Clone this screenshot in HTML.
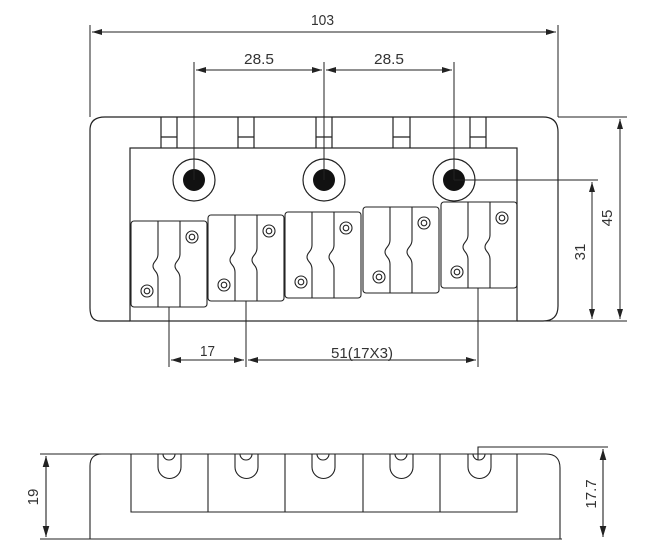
<!DOCTYPE html>
<html><head><style>body{margin:0;background:#fff}svg{display:block}text{font-family:"Liberation Sans",sans-serif;font-size:15px;fill:#333}</style></head><body>
<svg width="650" height="560" viewBox="0 0 650 560" xmlns="http://www.w3.org/2000/svg">
<defs><marker id="a" viewBox="0 0 10 6" refX="10" refY="3" markerWidth="10" markerHeight="6" orient="auto-start-reverse"><path d="M0,0 L10,3 L0,6z" fill="#222"/></marker></defs>
<g fill="none" stroke="#222" stroke-width="1.2">
<path d="M130,321 H100 Q90,321 90,308 V130 Q90,117 105,117 H543 Q558,117 558,132 V306 Q558,321 543,321 H517"/>
<rect x="130" y="148" width="387" height="173"/>
<path d="M161,117V148M177,117V148M161,137H177"/>
<path d="M238,117V148M254,117V148M238,137H254"/>
<path d="M316,117V148M332,117V148M316,137H332"/>
<path d="M393,117V148M410,117V148M393,137H410"/>
<path d="M470,117V148M486,117V148M470,137H486"/>
<circle cx="194" cy="180" r="21"/><circle cx="324" cy="180" r="21"/><circle cx="454" cy="180" r="21"/>
</g>
<g fill="#111"><circle cx="194" cy="180" r="11"/><circle cx="324" cy="180" r="11"/><circle cx="454" cy="180" r="11"/></g>
<g fill="none" stroke="#222" stroke-width="1.1">
<g id="s1" transform="translate(131,221)">
<rect x="0" y="0" width="76" height="86" rx="3"/>
<path d="M27,0 V33 C27,40 22,40 22,45 C22,50 27,50 27,57 V86"/>
<path d="M49,0 V33 C49,40 44,40 44,45 C44,50 49,50 49,57 V86"/>
<circle cx="61" cy="16" r="6"/><circle cx="61" cy="16" r="2.8"/>
<circle cx="16" cy="70" r="6"/><circle cx="16" cy="70" r="2.8"/>
</g>
<use href="#s1" transform="translate(77,-6)"/>
<use href="#s1" transform="translate(154,-9)"/>
<use href="#s1" transform="translate(232,-14)"/>
<use href="#s1" transform="translate(310,-19)"/>
</g>
<g stroke="#222" stroke-width="1" fill="none">
<path d="M90,25V117M558,25V117"/>
<path d="M92,32H556" marker-start="url(#a)" marker-end="url(#a)"/>
<path d="M194,62V180M324,62V180M454,62V180"/>
<path d="M196,70H322" marker-start="url(#a)" marker-end="url(#a)"/>
<path d="M326,70H452" marker-start="url(#a)" marker-end="url(#a)"/>
<path d="M558,117H627M517,321H627M454,180H598"/>
<path d="M620,119V319" marker-start="url(#a)" marker-end="url(#a)"/>
<path d="M592,182V319" marker-start="url(#a)" marker-end="url(#a)"/>
<path d="M169,307V367M246,301V367M478,288V367"/>
<path d="M171,360H244" marker-start="url(#a)" marker-end="url(#a)"/>
<path d="M248,360H476" marker-start="url(#a)" marker-end="url(#a)"/>
</g>
<text x="311" y="25" textLength="23" lengthAdjust="spacingAndGlyphs">103</text>
<text x="244" y="64" textLength="30" lengthAdjust="spacingAndGlyphs">28.5</text>
<text x="374" y="64" textLength="30" lengthAdjust="spacingAndGlyphs">28.5</text>
<text x="200" y="356" textLength="15" lengthAdjust="spacingAndGlyphs">17</text>
<text x="331" y="358" textLength="62" lengthAdjust="spacingAndGlyphs">51(17X3)</text>
<text transform="translate(612,218) rotate(-90)" text-anchor="middle">45</text>
<text transform="translate(585,252) rotate(-90)" text-anchor="middle">31</text>
<g fill="none" stroke="#222" stroke-width="1.1">
<path d="M90,539 V466 Q90,454 102,454 H546 Q560,454 560,468 V539"/>
<path d="M40,539H562"/>
<path d="M40,454H102"/>
<path d="M131,454V512H517V454M208,454V512M285,454V512M363,454V512M440,454V512"/>
<g id="n">
<path d="M158,454 V467 A11.5,11.5 0 0 0 181,467 V454"/>
<path d="M163,454 A6,6 0 0 0 175,454"/>
</g>
<use href="#n" transform="translate(77,0)"/>
<use href="#n" transform="translate(154,0)"/>
<use href="#n" transform="translate(232,0)"/>
<use href="#n" transform="translate(310,0)"/>
<path d="M478,460V447H608"/>
<path d="M46,456V537" marker-start="url(#a)" marker-end="url(#a)"/>
<path d="M603,449V537" marker-start="url(#a)" marker-end="url(#a)"/>
</g>
<text transform="translate(38,497) rotate(-90)" text-anchor="middle">19</text>
<text transform="translate(596,494) rotate(-90)" text-anchor="middle">17.7</text>
</svg>
</body></html>
